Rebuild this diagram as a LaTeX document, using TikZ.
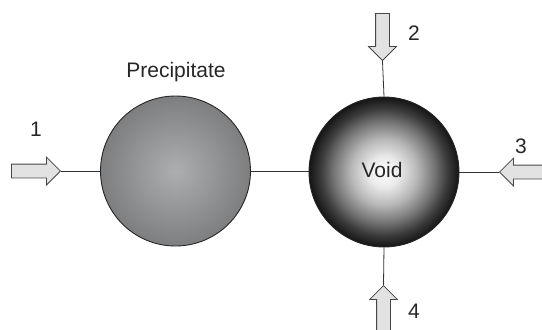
\documentclass[tikz,border=0pt]{standalone}
\usepackage{fontspec}
\setmainfont{Liberation Sans}
\usetikzlibrary{shapes.arrows}
\definecolor{arrowfill}{RGB}{226,226,226}
\definecolor{edgegray}{RGB}{70,70,70}
\definecolor{precin}{RGB}{172,174,176}
\definecolor{precout}{RGB}{124,126,128}
% glowing void: broad bright core, fading to black at the rim
\pgfdeclareradialshading{voidshade}{\pgfpoint{0bp}{0bp}}{%
  color(0bp)=(white); color(5bp)=(white!92!black); color(11bp)=(black!28);
  color(17bp)=(black!55); color(21bp)=(black!76); color(25bp)=(black!92);
  color(50bp)=(black)}
\tikzset{
  ball/.style={circle, draw=black!85, line width=0.9pt, minimum size=#1, inner sep=0pt},
  flux/.style={single arrow, draw=edgegray, fill=arrowfill, line width=0.8pt,
    inner xsep=0pt, inner ysep=6.5pt, single arrow head extend=7pt,
    single arrow tip angle=90, minimum height=#1, anchor=tip},
  link/.style={draw=black!80, line width=0.8pt},
  lbl/.style={font=\fontsize{21}{24}\selectfont, text=black!85}
}
\begin{document}
\begin{tikzpicture}[x=1pt, y=-1pt]
  \useasboundingbox (0,0) rectangle (542,330);
  \clip (0,0) rectangle (542,330);
  % particles
  \node[ball=150pt, inner color=precin, outer color=precout] (prec) at (175.5,171) {};
  \node[ball=150pt, shading=voidshade] (void) at (384,172) {};
  \node[lbl] at (382,170) {Void};
  \node[lbl] (plabel) at (176,72) {Precipitate};
  % incoming fluxes
  \node[flux=49pt] (f1) at (61,171) {};
  \node[flux=47pt, rotate=-90] (f2) at (382.5,61) {};
  \node[flux=50pt, rotate=180] (f3) at (499,172) {};
  \node[flux=50pt, rotate=90] (f4) at (383.5,285) {};
  % flux numbers
  \node[lbl] (n1) at (36,129) {1};
  \node[lbl] (n2) at (414,33) {2};
  \node[lbl] (n3) at (521,146) {3};
  \node[lbl] (n4) at (414,311) {4};
  % connectors
  \draw[link] (f1.tip) -- (prec.west);
  \draw[link] (prec.east) -- (prec.east -| void.west);
  \draw[link] (f2.tip) -- (void.north);
  \draw[link] (f3.tip) -- (void.east);
  \draw[link] (f4.tip) -- (void.south);
\end{tikzpicture}
\end{document}
